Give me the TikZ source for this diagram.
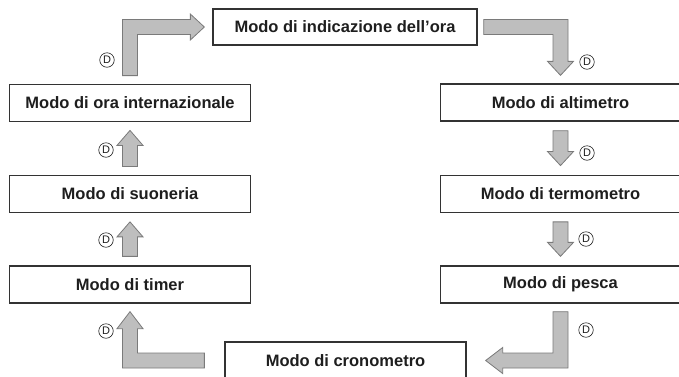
\documentclass[tikz,border=0pt]{standalone}
\usepackage{fontspec}
\setmainfont{Liberation Sans}
\usetikzlibrary{calc}
\definecolor{boxline}{HTML}{333333}
\definecolor{arrfill}{HTML}{BEBEBE}
\definecolor{arrline}{HTML}{7A7A7A}
\definecolor{txt}{HTML}{1E1E1E}
\newcommand\arrSW{7.5pt}
\newcommand\arrHW{13pt}
\newcommand\blkup[2]{\path[barrow] let \p1=(#1), \p2=(#2) in
  (\x1-\arrSW,\y1) -- (\x1-\arrSW,\y2-15pt) -- (\x1-\arrHW,\y2-15pt) -- (\x1,\y2) --
  (\x1+\arrHW,\y2-15pt) -- (\x1+\arrSW,\y2-15pt) -- (\x1+\arrSW,\y1) -- cycle;}
\newcommand\blkdown[2]{\path[barrow] let \p1=(#1), \p2=(#2) in
  (\x1-\arrSW,\y1) -- (\x1-\arrSW,\y2+14pt) -- (\x1-\arrHW,\y2+14pt) -- (\x1,\y2) --
  (\x1+\arrHW,\y2+14pt) -- (\x1+\arrSW,\y2+14pt) -- (\x1+\arrSW,\y1) -- cycle;}
\begin{document}
\begin{tikzpicture}[x=1pt,y=-1pt,
  mode/.style={draw=boxline, line width=1.3pt, fill=white,
    font=\bfseries\fontsize{16.5}{18}\selectfont, text=txt,
    inner sep=0pt, minimum height=37pt},
  barrow/.style={fill=arrfill, draw=arrline, line width=0.8pt, line join=miter},
  dlabel/.style={circle, draw=txt, line width=0.6pt, inner sep=0pt,
    minimum size=14.5pt, font=\fontsize{11}{11}\selectfont, text=txt}]
\useasboundingbox (0,0) rectangle (679,376);

% mode boxes
\node[mode, minimum width=264pt, minimum height=36pt] (top) at (345,27) {Modo di indicazione dell’ora};
\node[mode, minimum width=241pt] (ora)   at (130,102.75) {Modo di ora internazionale};
\node[mode, minimum width=241pt] (suon)  at (130,193.7)  {Modo di suoneria};
\node[mode, minimum width=241pt] (timer) at (130,284.5)  {Modo di timer};
\node[mode, minimum width=240pt] (alt)   at (560.5,102.5) {Modo di altimetro};
\node[mode, minimum width=240pt] (term)  at (560.5,193.7) {Modo di termometro};
\node[mode, minimum width=240pt] (pesca) at (560.5,284.5) {Modo di pesca};
\node[mode, minimum width=241pt] (cron)  at (345.5,360.5) {Modo di cronometro};

% arrow anchor coordinates
\coordinate (a1s) at ($(ora.north)+(0,-8)$);
\coordinate (a1t) at ($(top.west)+(-8,0)$);
\coordinate (a1c) at (a1s |- a1t);
\coordinate (a2s) at ($(suon.north)+(0,-8)$);
\coordinate (a2t) at ($(ora.south)+(0,8.5)$);
\coordinate (a3s) at ($(timer.north)+(0,-9)$);
\coordinate (a3t) at ($(suon.south)+(0,9)$);
\coordinate (a4s) at ($(cron.west)+(-20,0)$);
\coordinate (a4t) at ($(timer.south)+(0,8)$);
\coordinate (a4c) at (a4t |- a4s);
\coordinate (a5s) at ($(top.east)+(6,0)$);
\coordinate (a5t) at ($(alt.north)+(0,-8)$);
\coordinate (a5c) at (a5t |- a5s);
\coordinate (a6s) at ($(alt.south)+(0,9)$);
\coordinate (a6t) at ($(term.north)+(0,-9)$);
\coordinate (a7s) at ($(term.south)+(0,9)$);
\coordinate (a7t) at ($(pesca.north)+(0,-9)$);
\coordinate (a8s) at ($(pesca.south)+(0,8)$);
\coordinate (a8t) at ($(cron.east)+(19,0)$);
\coordinate (a8c) at (a8s |- a8t);

% ora internazionale -> indicazione dell'ora (up, then right)
\path[barrow] let \p1=(a1s), \p2=(a1c), \p3=(a1t) in
  (\x1-\arrSW,\y1) -- (\x1-\arrSW,\y2+\arrSW) -- (\x3-14pt,\y2+\arrSW) -- (\x3-14pt,\y2+\arrHW) --
  (\x3,\y2) -- (\x3-14pt,\y2-\arrHW) -- (\x3-14pt,\y2-\arrSW) -- (\x1+\arrSW,\y2-\arrSW) --
  (\x1+\arrSW,\y1) -- cycle;
\blkup{a2s}{a2t}
\blkup{a3s}{a3t}
% cronometro -> timer (left, then up)
\path[barrow] let \p1=(a4s), \p2=(a4c), \p3=(a4t) in
  (\x1,\y2+\arrSW) -- (\x2+\arrSW,\y2+\arrSW) -- (\x2+\arrSW,\y3-17pt) -- (\x2+\arrHW,\y3-17pt) --
  (\x2,\y3) -- (\x2-\arrHW,\y3-17pt) -- (\x2-\arrSW,\y3-17pt) -- (\x2-\arrSW,\y2-\arrSW) --
  (\x1,\y2-\arrSW) -- cycle;
% indicazione dell'ora -> altimetro (right, then down)
\path[barrow] let \p1=(a5s), \p2=(a5c), \p3=(a5t) in
  (\x1,\y2+\arrSW) -- (\x2+\arrSW,\y2+\arrSW) -- (\x2+\arrSW,\y3+14pt) -- (\x2+\arrHW,\y3+14pt) --
  (\x2,\y3) -- (\x2-\arrHW,\y3+14pt) -- (\x2-\arrSW,\y3+14pt) -- (\x2-\arrSW,\y2-\arrSW) --
  (\x1,\y2-\arrSW) -- cycle;
\blkdown{a6s}{a6t}
\blkdown{a7s}{a7t}
% pesca -> cronometro (down, then left)
\path[barrow] let \p1=(a8s), \p2=(a8c), \p3=(a8t) in
  (\x1+\arrSW,\y1) -- (\x1+\arrSW,\y2-\arrSW) -- (\x3+17pt,\y2-\arrSW) -- (\x3+17pt,\y2-\arrHW) --
  (\x3,\y2) -- (\x3+17pt,\y2+\arrHW) -- (\x3+17pt,\y2+\arrSW) -- (\x1-\arrSW,\y2+\arrSW) --
  (\x1-\arrSW,\y1) -- cycle;

% button labels
\node[dlabel] (d1) at (107,60) {D};
\node[dlabel] (d2) at (106,150) {D};
\node[dlabel] (d3) at (106,240) {D};
\node[dlabel] (d4) at (106,331) {D};
\node[dlabel] (d5) at (587,62) {D};
\node[dlabel] (d6) at (587,153) {D};
\node[dlabel] (d7) at (586,239) {D};
\node[dlabel] (d8) at (586,330) {D};
\end{tikzpicture}
\end{document}
